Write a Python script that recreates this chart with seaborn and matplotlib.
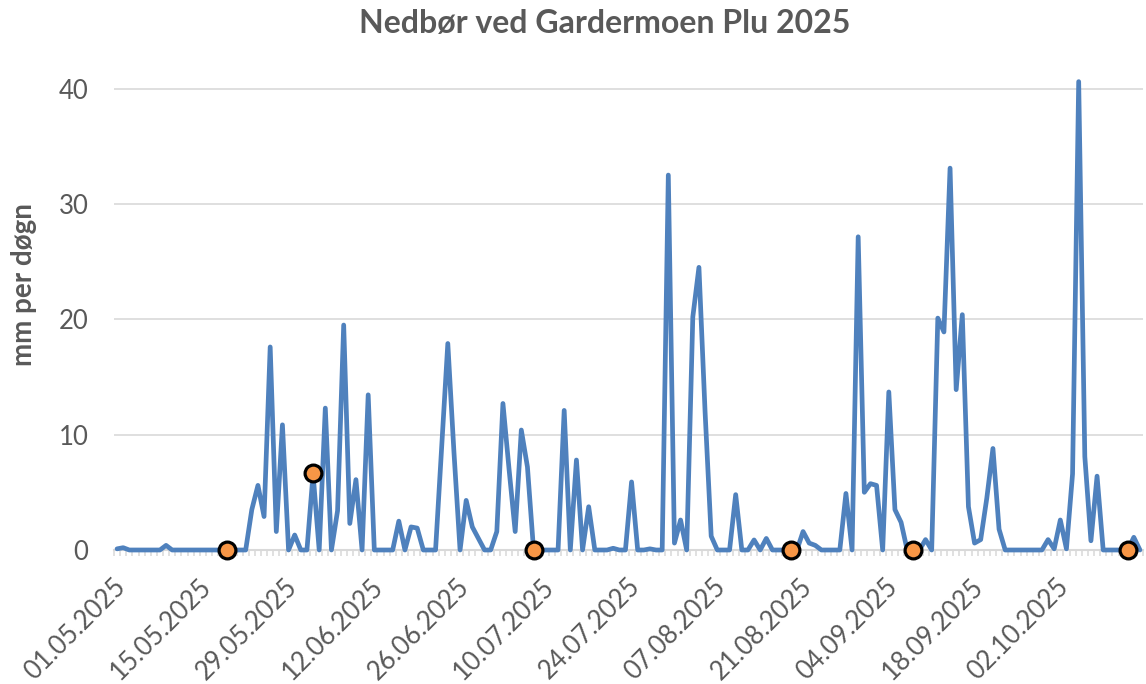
import numpy as np
import pandas as pd
import matplotlib
matplotlib.use("Agg")
import matplotlib.pyplot as plt
import matplotlib.dates as mdates
import matplotlib.transforms as mtransforms
import seaborn as sns

# ---------------- data ----------------
start_date = "2025-05-01"
precip_mm = [
    0.1, 0.2, 0, 0, 0, 0, 0, 0, 0.4, 0,            # 0-9
    0, 0, 0, 0, 0, 0, 0, 0, 0, 0,                  # 10-19
    0, 0, 3.5, 5.6, 2.9, 17.6, 1.6, 10.85, 0, 1.3,  # 20-29
    0, 0, 6.6, 0, 12.3, 0, 3.4, 19.5, 2.3, 6.1,     # 30-39
    0, 13.45, 0, 0, 0, 0, 2.5, 0, 2.0, 1.9,         # 40-49
    0, 0, 0, 9.0, 17.9, 8.5, 0, 4.3, 2.0, 1.0,      # 50-59
    0, 0, 1.6, 12.7, 7.0, 1.6, 10.4, 7.2, 0, 0,     # 60-69
    0, 0, 0, 12.1, 0, 7.8, 0, 3.75, 0, 0,           # 70-79
    0, 0.15, 0, 0, 5.9, 0, 0, 0.1, 0, 0,            # 80-89
    32.5, 0.6, 2.6, 0, 20.2, 24.5, 12.0, 1.2, 0, 0, # 90-99
    0, 4.8, 0, 0, 0.87, 0, 1.0, 0, 0, 0,            # 100-109
    0, 0, 1.6, 0.6, 0.4, 0, 0, 0, 0, 4.9,           # 110-119
    0, 27.15, 5.0, 5.75, 5.6, 0, 13.7, 3.5, 2.4, 0, # 120-129
    0, 0, 0.9, 0, 20.1, 18.9, 33.1, 13.9, 20.4, 3.75, # 130-139
    0.6, 0.9, 4.5, 8.8, 1.8, 0, 0, 0, 0, 0,         # 140-149
    0, 0, 0.9, 0.1, 2.6, 0.1, 6.6, 40.6, 8.1, 0.8,  # 150-159
    6.4, 0, 0, 0, 0, 0, 1.1, 0,                     # 160-167
]
marker_dates = ["2025-05-19", "2025-06-02", "2025-07-08",
                "2025-08-19", "2025-09-08", "2025-10-13"]
marker_mm = [0, 6.7, 0, 0, 0, 0]
tick_dates = ["2025-05-01", "2025-05-15", "2025-05-29", "2025-06-12",
              "2025-06-26", "2025-07-10", "2025-07-24", "2025-08-07",
              "2025-08-21", "2025-09-04", "2025-09-18", "2025-10-02"]
tick_labels = ["01.05.2025", "15.05.2025", "29.05.2025", "12.06.2025",
               "26.06.2025", "10.07.2025", "24.07.2025", "07.08.2025",
               "21.08.2025", "04.09.2025", "18.09.2025", "02.10.2025"]
y_ticks = [0, 10, 20, 30, 40]
title = "Nedbør ved Gardermoen Plu 2025"
y_label = "mm per døgn"

# ---------------- style ----------------
sns.set_theme(style="white")
plt.rcParams["font.family"] = ["Lato", "DejaVu Sans"]
TEXT = "#595959"
GRID = "#d9d9d9"
LINE = "#4f81bd"

dates = pd.date_range(start_date, periods=len(precip_mm), freq="D")
df = pd.DataFrame({"dato": dates, "mm": precip_mm})
mk = pd.DataFrame({"dato": pd.to_datetime(marker_dates), "mm": marker_mm})

W, H = 1146, 684
fig = plt.figure(figsize=(W / 100, H / 100), dpi=100)
ax = fig.add_axes([114 / W, 1 - 550 / H, 1029 / W, 473 / H])

sns.lineplot(data=df, x="dato", y="mm", ax=ax, color=LINE, linewidth=3.4,
             clip_on=False, zorder=3)
sns.scatterplot(data=mk, x="dato", y="mm", ax=ax, s=146, color="#f79646",
                edgecolor="black", linewidth=2.3, zorder=5, clip_on=False)

half = pd.Timedelta(hours=12)
ax.set_xlim(dates[0] - half, dates[-1] + half)
ax.set_ylim(0, 41)

# y axis
ax.set_yticks(y_ticks)
ax.set_yticklabels([str(v) for v in y_ticks])
ax.yaxis.grid(True, color=GRID, linewidth=1.2)
ax.tick_params(axis="y", length=0, pad=18.5, labelsize=18.5, labelcolor=TEXT)

# x axis
ax.set_xticks(pd.to_datetime(tick_dates))
ax.set_xticklabels(tick_labels, rotation=45, ha="right", va="top",
                   rotation_mode="anchor")
minor = [mdates.date2num(d - half) for d in dates] + [mdates.date2num(dates[-1] + half)]
ax.xaxis.set_minor_locator(matplotlib.ticker.FixedLocator(minor))
ax.tick_params(axis="x", which="major", length=0, pad=17, labelsize=18.5,
               labelcolor=TEXT)
ax.tick_params(axis="x", which="minor", bottom=True, length=4.5, width=1.1,
               color=GRID, direction="out")
ax.xaxis.grid(False)
shift = mtransforms.ScaledTranslation(-4 / 100, 0, fig.dpi_scale_trans)
for lab in ax.get_xticklabels():
    lab.set_transform(lab.get_transform() + shift)

for side in ["left", "right", "top"]:
    ax.spines[side].set_visible(False)
ax.spines["bottom"].set_color(GRID)
ax.spines["bottom"].set_linewidth(1.5)
ax.spines["bottom"].set_zorder(1)

ax.set_xlabel("")
ax.set_ylabel(y_label, fontsize=20, fontweight="bold", color=TEXT)
ax.yaxis.set_label_coords(-0.0748, 0.562)

fig.text(605 / W, 1 - 33 / H, title, ha="center", va="baseline",
         fontsize=23, fontweight="bold", color=TEXT)

fig.savefig("out.png", dpi=100, facecolor="white")
